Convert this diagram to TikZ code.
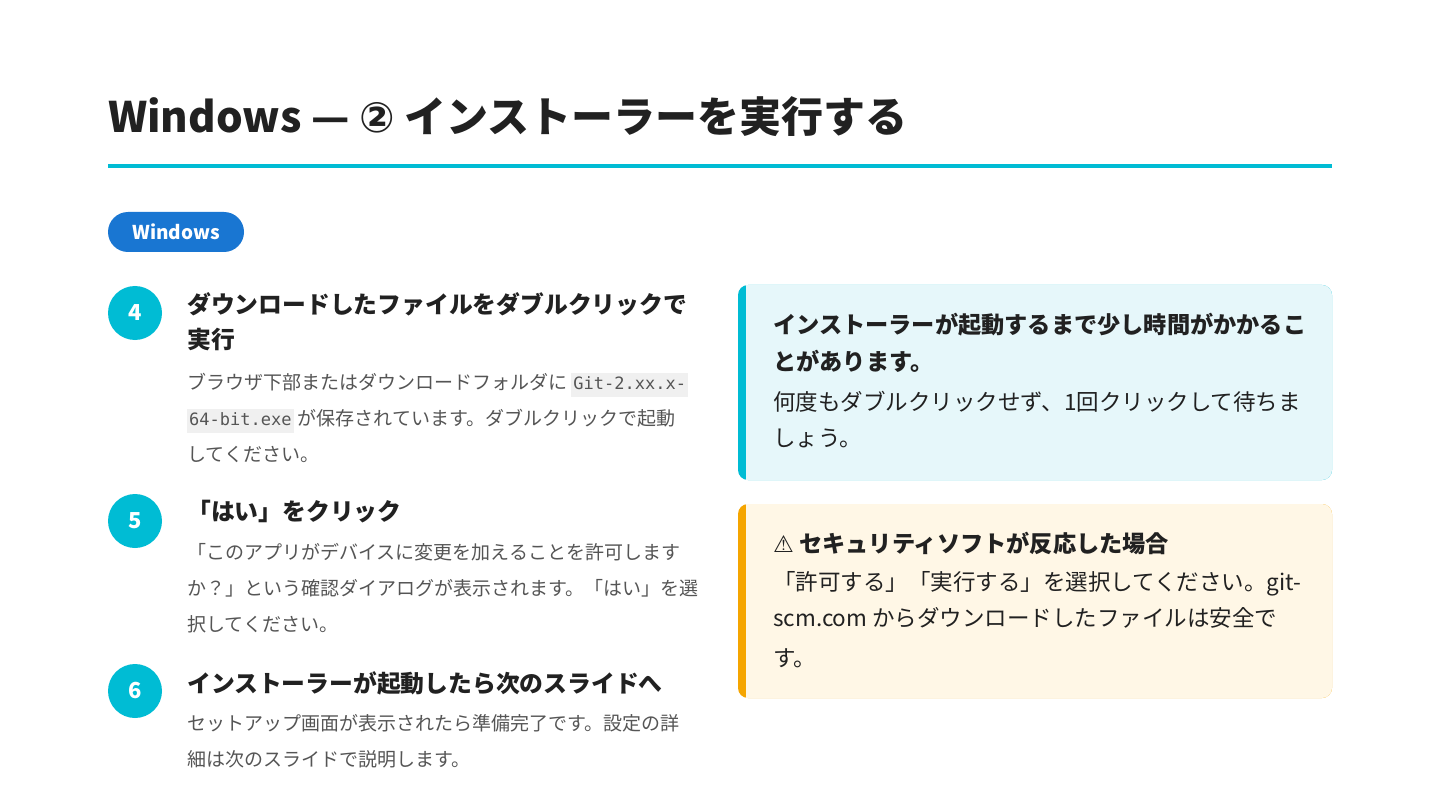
\documentclass[tikz,border=0pt]{standalone}
\usepackage{fontspec}
\setmainfont{Noto Sans CJK JP}
\newfontfamily\monofont{DejaVu Sans Mono}
\newfontfamily\symfont{DejaVu Sans}
\usetikzlibrary{positioning}
\definecolor{accent}{RGB}{0,188,212}
\definecolor{pillblue}{RGB}{25,118,210}
\definecolor{ink}{RGB}{33,33,33}
\definecolor{body}{RGB}{85,85,85}
\definecolor{infobg}{RGB}{230,247,250}
\definecolor{warnbg}{RGB}{255,247,230}
\definecolor{warnbar}{RGB}{245,165,0}
\definecolor{codebg}{RGB}{240,240,240}
\newcommand\codebox[1]{{\setlength\fboxsep{2pt}\colorbox{codebg}{\monofont\fontsize{17}{20}\selectfont\strut #1}}}
\begin{document}
\begin{tikzpicture}[x=1pt,y=-1pt,% styles
stepnum/.style = {circle, fill=accent, minimum size=54pt, inner sep=0pt,
                  text=white, font=\bfseries\fontsize{22}{26}\selectfont},
heading/.style = {anchor=base west, inner sep=0pt, text=ink,
                  font=\bfseries\fontsize{23.8}{28}\selectfont},
desc/.style = {anchor=base west, inner sep=0pt, text=body,
               font=\fontsize{19}{23}\selectfont},
boxtext/.style = {anchor=base west, inner sep=0pt, text=ink,
                  font=\fontsize{22.5}{27}\selectfont},
boxhead/.style = {boxtext, font=\bfseries\fontsize{23.2}{28}\selectfont}
                    ]
	\useasboundingbox (0,0) rectangle (1440,810);
	\fill[white] (0,0) rectangle (1440,810);

	% title
	\node[anchor=base west, inner sep=0pt, text=ink,
	      font=\bfseries\fontsize{42}{50}\selectfont] (title) at (108,133)
	      {Windows — {\symfont ②} インストーラーを実行する};
	\fill[accent] (108,164) rectangle (1332,168);

	% pill
	\node[fill=pillblue, rounded corners=20pt, minimum width=136pt, minimum height=40pt,
	      text=white, font=\bfseries\fontsize{19}{23}\selectfont] (pill) at (176,232) {Windows};

	% step 4
	\node[stepnum] (s4) at (135,313) {4};
	\node[heading] (h4a) at (187,313) {ダウンロードしたファイルをダブルクリックで};
	\node[heading] (h4b) at (187,348) {実行};
	\node[desc] (d4a) at (187,389) {ブラウザ下部またはダウンロードフォルダに \codebox{Git-2.xx.x-}};
	\node[desc] (d4b) at (187,425) {\codebox{64-bit.exe} が保存されています。ダブルクリックで起動};
	\node[desc] (d4c) at (187,461) {してください。};

	% step 5
	\node[stepnum] (s5) at (135,521) {5};
	\node[heading] (h5) at (187,520) {「はい」をクリック};
	\node[desc] (d5a) at (187,559) {「このアプリがデバイスに変更を加えることを許可します};
	\node[desc] (d5b) at (187,595) {か？」という確認ダイアログが表示されます。「はい」を選};
	\node[desc] (d5c) at (187,631) {択してください。};

	% step 6
	\node[stepnum] (s6) at (135,691) {6};
	\node[heading] (h6) at (187,692) {インストーラーが起動したら次のスライドへ};
	\node[desc] (d6a) at (187,730) {セットアップ画面が表示されたら準備完了です。設定の詳};
	\node[desc] (d6b) at (187,766) {細は次のスライドで説明します。};

	% info box
	\fill[accent, rounded corners=10pt] (738,285) rectangle (1332,480);
	\fill[infobg, rounded corners=10pt] (746,285) rectangle (1332,480);
	\fill[infobg] (746,285) rectangle (760,480);
	\node[boxhead] (i1) at (773,334) {インストーラーが起動するまで少し時間がかかるこ};
	\node[boxhead] (i2) at (773,370) {とがあります。};
	\node[boxtext] (i3) at (773,410) {何度もダブルクリックせず、1回クリックして待ちま};
	\node[boxtext] (i4) at (773,446) {しょう。};

	% warning box
	\fill[warnbar, rounded corners=10pt] (738,504) rectangle (1332,698);
	\fill[warnbg, rounded corners=10pt] (746,504) rectangle (1332,698);
	\fill[warnbg] (746,504) rectangle (760,698);
	\node[boxhead] (w1) at (773,552) {{\symfont ⚠} セキュリティソフトが反応した場合};
	\node[boxtext] (w2) at (773,590) {「許可する」「実行する」を選択してください。git-};
	\node[boxtext] (w3) at (773,626) {scm.com からダウンロードしたファイルは安全で};
	\node[boxtext] (w4) at (773,666) {す。};
\end{tikzpicture}
\end{document}
